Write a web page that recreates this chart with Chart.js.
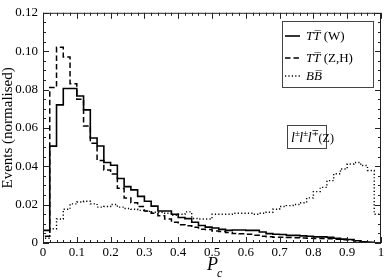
<!DOCTYPE html>
<html><head><meta charset="utf-8">
<script src="https://cdn.jsdelivr.net/npm/chart.js@4/dist/chart.umd.min.js"></script>
<style>html,body{margin:0;padding:0;background:#fff}#wrap{width:389px;height:278px}</style>
</head><body><div id="wrap"><canvas id="c" width="389" height="278"></canvas></div>
<script>
// bin left edges (P_c), bin width 0.02
const binStarts = [0,0.02,0.04,0.06,0.08,0.10,0.12,0.14,0.16,0.18,0.20,0.22,0.24,0.26,0.28,0.30,0.32,0.34,0.36,0.38,
  0.40,0.42,0.44,0.46,0.48,0.50,0.52,0.54,0.56,0.58,0.60,0.62,0.64,0.66,0.68,0.70,0.72,0.74,0.76,0.78,
  0.80,0.82,0.84,0.86,0.88,0.90,0.92,0.94,0.96,0.98];
const binEnd = 1.0;
const seriesLabels = ["TT\u0305 (W)", "TT\u0305 (Z,H)", "BB\u0305"];
const ttW = [0.0066,0.0505,0.072,0.0805,0.0805,0.0766,0.0694,0.0547,0.0506,0.042,
  0.0405,0.0336,0.0294,0.0277,0.0243,0.0218,0.0192,0.0167,0.0167,0.015,
  0.0133,0.0127,0.0108,0.0091,0.0083,0.0078,0.0071,0.0066,0.0068,0.0068,
  0.0066,0.0066,0.0057,0.0049,0.0046,0.0044,0.004,0.004,0.0037,0.0035,
  0.0032,0.0032,0.003,0.0025,0.002,0.0018,0.0012,0.0006,0.0003,0];
const ttZH = [0.0035,0.081,0.102,0.097,0.083,0.075,0.061,0.052,0.043,0.038,
  0.036,0.0285,0.0234,0.021,0.019,0.0167,0.0155,0.0142,0.0125,0.0108,
  0.0095,0.009,0.0082,0.0072,0.007,0.0062,0.006,0.0055,0.005,0.0048,
  0.0045,0.004,0.0035,0.0032,0.003,0.003,0.0029,0.0028,0.0026,0.0025,
  0.0024,0.0024,0.0022,0.002,0.0017,0.0015,0.001,0.0006,0.0003,0];
const bb = [0.0025,0.0074,0.0125,0.0176,0.0204,0.0214,0.0218,0.0204,0.0187,0.019,
  0.0201,0.0187,0.018,0.0176,0.017,0.0165,0.016,0.016,0.0155,0.0145,
  0.015,0.0162,0.0128,0.0125,0.0125,0.015,0.015,0.015,0.0155,0.0155,
  0.0155,0.015,0.0155,0.016,0.0176,0.019,0.0195,0.0201,0.021,0.0235,
  0.0268,0.029,0.0325,0.0361,0.0386,0.0412,0.042,0.0404,0.0378,0.015];
const xTicks = [0,0.1,0.2,0.3,0.4,0.5,0.6,0.7,0.8,0.9,1];
const yTicks = [0,0.02,0.04,0.06,0.08,0.10,0.12];
const annotationText = ["l","\u00b1","l","\u00b1","l","\u2213","(Z)"];

function histPoints(vals){
  const pts=[{x:binStarts[0],y:0}];
  vals.forEach((v,i)=>pts.push({x:binStarts[i],y:v}));
  pts.push({x:binEnd,y:0});
  return pts;
}
const SERIF = "'Liberation Serif','DejaVu Serif',serif";
const styles = [
  {borderDash:[], borderWidth:1.6},
  {borderDash:[5.5,3], borderWidth:1.5},
  {borderDash:[1.2,2.2], borderWidth:1.4}
];
const datasets = [ttW, ttZH, bb].map((vals,i)=>({
  label: seriesLabels[i], data: histPoints(vals), stepped: true,
  borderColor:'#000', borderWidth: styles[i].borderWidth, borderDash: styles[i].borderDash,
  pointRadius:0, fill:false, tension:0
}));

const decor = {
  id:'decor',
  afterDraw(chart){
    const ctx = chart.ctx, a = chart.chartArea, xs = chart.scales.x, ys = chart.scales.y;
    ctx.save();
    ctx.strokeStyle = '#222'; ctx.lineWidth = 1;
    ctx.strokeRect(a.left+0.5, a.top+0.5, a.right-a.left-1, a.bottom-a.top-1);
    // ticks inward
    ctx.beginPath();
    for (let i=0;i<=50;i++){
      const v = i*0.02, px = Math.round(xs.getPixelForValue(v))+0.5;
      const len = (i%5===0)?6:3;
      ctx.moveTo(px,a.bottom); ctx.lineTo(px,a.bottom-len);
      ctx.moveTo(px,a.top); ctx.lineTo(px,a.top+len);
    }
    for (let i=0;i<=24;i++){
      const v = i*0.005, py = Math.round(ys.getPixelForValue(v))+0.5;
      const len = (i%4===0)?6:3;
      ctx.moveTo(a.left,py); ctx.lineTo(a.left+len,py);
      ctx.moveTo(a.right,py); ctx.lineTo(a.right-len,py);
    }
    ctx.stroke();
    // y title
    ctx.fillStyle = '#000';
    ctx.font = "15px "+SERIF;
    ctx.save();
    ctx.translate(8, (a.top+a.bottom)/2);
    ctx.rotate(-Math.PI/2);
    ctx.textAlign='center'; ctx.textBaseline='middle';
    ctx.fillText('Events (normalised)',0,0);
    ctx.restore();
    // x title
    ctx.font = "italic 18px "+SERIF;
    ctx.textAlign='left'; ctx.textBaseline='alphabetic';
    ctx.fillText('P',207,270);
    ctx.font = "italic 12px "+SERIF;
    ctx.fillText('c',217,277);
    // legend
    const lx0=282.5, ly0=21.5, lw=91, lh=66;
    ctx.lineWidth=1; ctx.strokeStyle='#444';
    ctx.strokeRect(lx0,ly0,lw,lh);
    const rows=[36,58,76];
    chart.data.datasets.forEach((ds,i)=>{
      const y=rows[i];
      ctx.save();
      ctx.strokeStyle='#000'; ctx.lineWidth=ds.borderWidth;
      ctx.setLineDash(ds.borderDash);
      ctx.beginPath(); ctx.moveTo(285,y); ctx.lineTo(300,y); ctx.stroke();
      ctx.restore();
      const parts = ds.label.split(' ');
      ctx.font = "italic 13px "+SERIF;
      ctx.textBaseline='middle';
      ctx.fillText(parts[0],306,y+1);
      if (parts[1]){
        const w = ctx.measureText(parts[0]).width;
        ctx.font = "13px "+SERIF;
        ctx.fillText(' '+parts[1],306+w,y+1);
      }
    });
    // annotation box
    ctx.strokeStyle='#444'; ctx.lineWidth=1;
    ctx.strokeRect(287.5,125.5,39,23);
    let tx=291; const by=142;
    ctx.textBaseline='alphabetic';
    annotationText.forEach((t,i)=>{
      if (t==='l'){ ctx.font="italic 14px "+SERIF; ctx.fillText(t,tx,by); tx+=ctx.measureText(t).width; }
      else if (t==='(Z)'){ ctx.font="12px "+SERIF; ctx.fillText(t,tx,by); tx+=ctx.measureText(t).width; }
      else { ctx.font="9px "+SERIF; ctx.fillText(t,tx,by-6); tx+=ctx.measureText(t).width-0.5; }
    });
    ctx.restore();
  }
};

new Chart(document.getElementById('c'),{
  type:'line',
  data:{datasets},
  options:{
    responsive:false, animation:false, devicePixelRatio:1,
    layout:{padding:{top:6,right:8,left:0,bottom:0}},
    plugins:{legend:{display:false},tooltip:{enabled:false}},
    scales:{
      x:{type:'linear',min:0,max:1,
        afterBuildTicks:s=>{s.ticks=xTicks.map(v=>({value:v}));},
        afterFit:s=>{s.height=35;},
        grid:{display:false,drawTicks:false},border:{display:false},
        ticks:{padding:2,maxRotation:0,autoSkip:false,color:'#000',font:{family:SERIF,size:13},
          callback:v=>v===0?'0':(v===1?'1':v.toFixed(1))}},
      y:{type:'linear',min:0,max:0.12,
        afterBuildTicks:s=>{s.ticks=yTicks.map(v=>({value:v}));},
        afterFit:s=>{s.width=43;},
        grid:{display:false,drawTicks:false},border:{display:false},
        ticks:{padding:5,autoSkip:false,color:'#000',font:{family:SERIF,size:13},
          callback:v=>v===0?'0':v.toFixed(2)}}
    }
  },
  plugins:[decor]
});
</script></body></html>
